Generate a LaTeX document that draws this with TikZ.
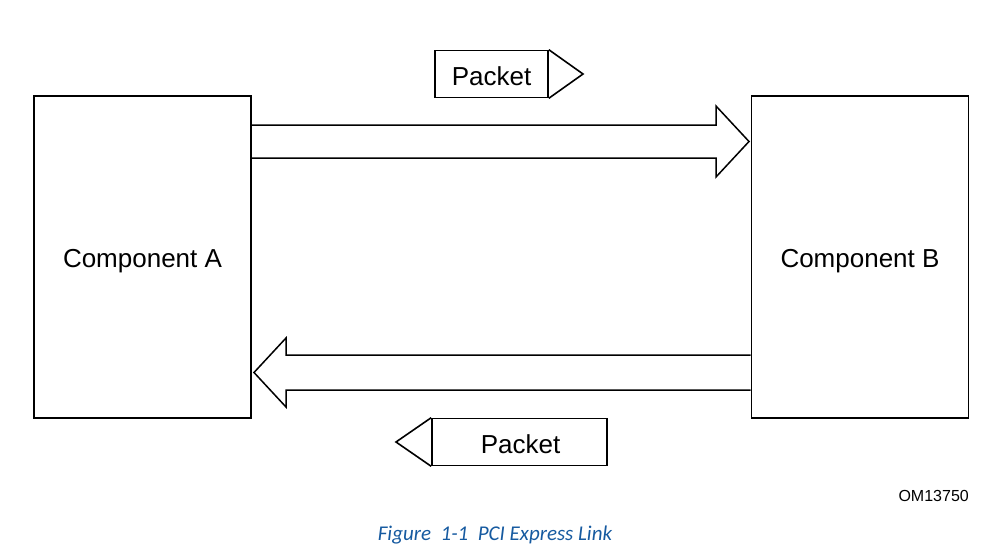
\documentclass[tikz,border=0pt]{standalone}
\usepackage{fontspec}
\setmainfont{Liberation Sans}
\newfontfamily\capfont{Carlito}
\definecolor{capblue}{RGB}{22,90,160}
\begin{document}
\begin{tikzpicture}[x=1pt,y=-1pt,
  comp/.style={draw,line width=1.6pt,minimum width=217pt,minimum height=322pt,inner sep=0pt},
  pkt/.style={draw,line width=1.6pt,inner sep=0pt},
  lbl/.style={inner sep=0pt,font=\fontsize{26}{30}\selectfont},
  blk/.style={line width=1.5pt,line join=miter}]
\useasboundingbox (0,0) rectangle (994,546);
\node[comp] (A) at (142.5,257) {};
\node[comp] (B) at (860,257) {};
\node[lbl] (At) at ([yshift=-4pt]A.center) {Component A};
\node[lbl] (Bt) at ([yshift=-4pt]B.center) {Component B};
% top block arrow
\draw[blk] (A.east |- 0,125) -- (716,125) -- (716,106) -- (749,141.5) -- (716,177) -- (716,158) -- (A.east |- 0,158);
% bottom block arrow
\draw[blk] (B.west |- 0,355) -- (286,355) -- (286,338) -- (254,372.5) -- (286,407) -- (286,390) -- (B.west |- 0,390);
% packets
\node[pkt,minimum width=113pt,minimum height=47pt] (P1) at (491.5,74) {};
\node[lbl] (P1t) at ([yshift=-2pt]P1.center) {Packet};
\draw[line width=1.6pt,line join=miter] (P1.north east) -- (583,74) coordinate (p1tip) -- (P1.south east);
\node[pkt,minimum width=175pt,minimum height=47pt] (P2) at (519.5,442) {};
\node[lbl] (P2t) at ([xshift=1pt,yshift=-2pt]P2.center) {Packet};
\draw[line width=1.6pt,line join=miter] (P2.north west) -- (396,442) coordinate (p2tip) -- (P2.south west);
\node[font=\fontsize{16}{19}\selectfont,anchor=east,inner sep=0pt] (om) at (969,496) {OM13750};
\node[font=\capfont\itshape\fontsize{21}{25}\selectfont,text=capblue,inner sep=0pt] (cap) at (495,535) {Figure\ \ 1-1\ \ PCI Express Link};
\end{tikzpicture}
\end{document}
